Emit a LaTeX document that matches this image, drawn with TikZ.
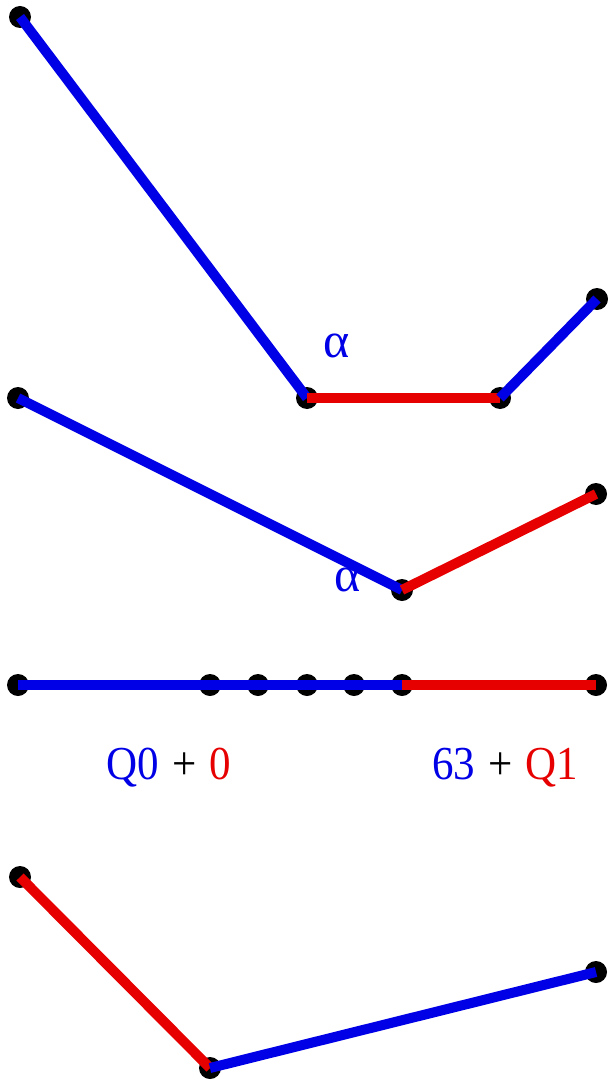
\documentclass[tikz,border=0pt]{standalone}
\usepackage{fontspec}
\setmainfont{Liberation Serif}
\definecolor{myblue}{RGB}{0,0,230}
\definecolor{myred}{RGB}{230,0,0}
\tikzset{
  pt/.style={circle,fill=black,inner sep=0pt,minimum size=22pt},
  bl/.style={draw=myblue,line width=10pt},
  rd/.style={draw=myred,line width=10pt},
  lbl/.style={font=\fontsize{43}{44}\selectfont,inner sep=0pt,anchor=base},
  alph/.style={font=\fontsize{50}{50}\selectfont,text=myblue,inner sep=0pt}
}
\begin{document}
\begin{tikzpicture}[x=1pt,y=-1pt]
\useasboundingbox (0,0) rectangle (611,1083);
% top
\node[pt] (a1) at (20,17) {};
\node[pt] (a2) at (307,398) {};
\node[pt] (a3) at (500,398) {};
\node[pt] (a4) at (597,299) {};
\draw[bl] (a1.center) -- (a2.center);
\draw[rd] (a2.center) -- (a3.center);
\draw[bl] (a3.center) -- (a4.center);
\node[alph] (al1) at (337,346) {α};
% middle
\node[pt] (b1) at (18,398) {};
\node[pt] (b2) at (402,590) {};
\node[pt] (b3) at (596,494) {};
\draw[bl] (b1.center) -- (b2.center);
\draw[rd] (b2.center) -- (b3.center);
\node[alph] (al2) at (348,580) {α};
% line
\node[pt] (c1) at (18,685) {};
\node[pt] (c2) at (210,685) {};
\node[pt] (c3) at (258,685) {};
\node[pt] (c4) at (307,685) {};
\node[pt] (c5) at (354,685) {};
\node[pt] (c6) at (402,685) {};
\node[pt] (c7) at (596,685) {};
\draw[bl] (c1.center) -- (c6.center);
\draw[rd] (c6.center) -- (c7.center);
\node[lbl] (l1) at (169,779) {\scalebox{1}[1.1]{\textcolor{myblue}{Q0}\hspace{0.3em}+\hspace{0.3em}\textcolor{myred}{0}}};
\node[lbl] (l2) at (505,779) {\scalebox{1}[1.1]{\textcolor{myblue}{63}\hspace{0.3em}+\hspace{0.3em}\textcolor{myred}{Q1}}};
% bottom
\node[pt] (d1) at (20,877) {};
\node[pt] (d2) at (210,1068) {};
\node[pt] (d3) at (596,972) {};
\draw[rd] (d1.center) -- (d2.center);
\draw[bl] (d2.center) -- (d3.center);
\end{tikzpicture}
\end{document}
